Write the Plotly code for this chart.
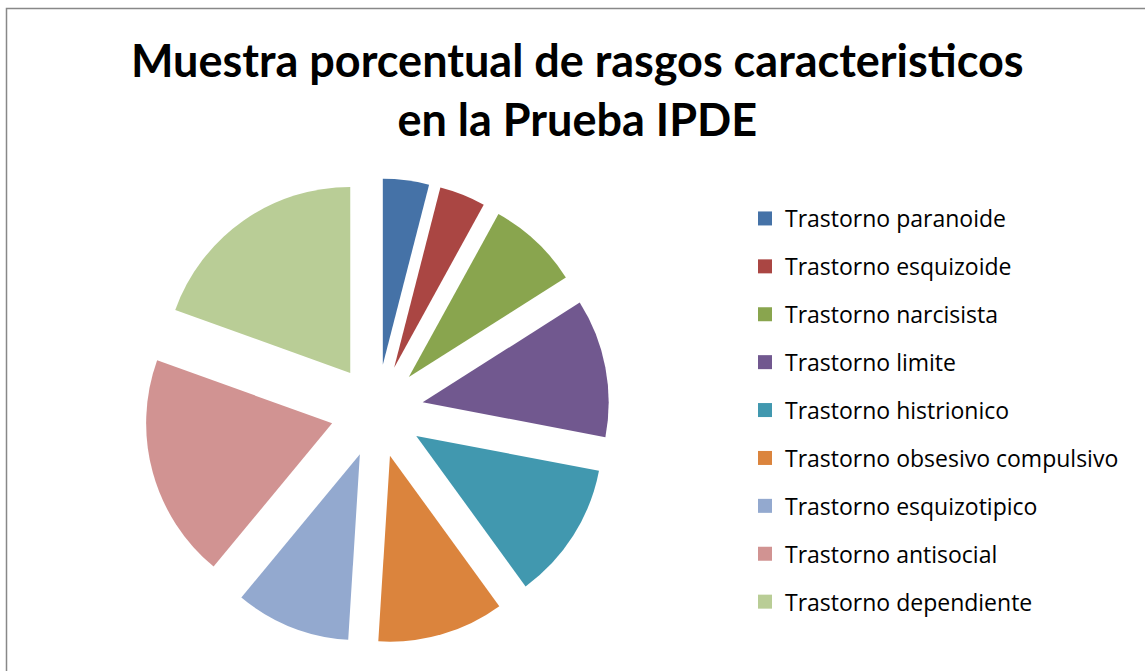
import plotly.graph_objects as go

W, H = 1145, 671

labels = [
    "Trastorno paranoide",
    "Trastorno esquizoide",
    "Trastorno narcisista",
    "Trastorno limite",
    "Trastorno histrionico",
    "Trastorno obsesivo compulsivo",
    "Trastorno esquizotipico",
    "Trastorno antisocial",
    "Trastorno dependiente",
]
values = [4, 4, 8, 12, 12, 11, 10, 19.5, 19.5]
colors = ["#4572A7", "#AA4643", "#89A54E", "#71588F", "#4198AF",
          "#DB843D", "#93A9CF", "#D19392", "#B9CD96"]

title_text = "Muestra porcentual de rasgos caracteristicos<br>en la Prueba IPDE"

TITLE_FONT = "Lato"
LEGEND_FONT = "Open Sans"

fig = go.Figure()

# pie domain (pixels -> paper)
cx, cy, half = 377, 411, 232.5
fig.add_trace(go.Pie(
    labels=labels, values=values,
    marker=dict(colors=colors, line=dict(width=0)),
    sort=False, direction="clockwise", rotation=0,
    pull=[0.25] * len(values),
    textinfo="none", hoverinfo="label+percent",
    showlegend=False,
    domain=dict(x=[(cx - half) / W, (cx + half) / W],
                y=[1 - (cy + half) / H, 1 - (cy - half) / H]),
))

# legend entries
for i, (lab, col) in enumerate(zip(labels, colors)):
    fig.add_trace(go.Scatter(
        x=[None], y=[None], mode="markers", name=lab,
        marker=dict(symbol="square", size=14, color=col),
        legendgroup=str(i), showlegend=True,
    ))

fig.update_layout(
    width=W, height=H,
    margin=dict(l=0, r=0, t=0, b=0),
    paper_bgcolor="white", plot_bgcolor="white",
    xaxis=dict(visible=False), yaxis=dict(visible=False),
    annotations=[dict(text=title_text, xref="paper", yref="paper",
                      x=577.5 / W, xanchor="center", y=1 - 89 / H, yanchor="middle",
                      showarrow=False,
                      font=dict(family=TITLE_FONT, size=45, color="black", weight="bold"))],
    legend=dict(x=745 / W, xanchor="left", y=1 - 197 / H, yanchor="top",
                font=dict(family=LEGEND_FONT, size=23, color="black"),
                tracegroupgap=15, bgcolor="rgba(0,0,0,0)"),
    shapes=[dict(type="rect", xref="paper", yref="paper",
                 x0=6.5 / W, x1=1.02, y0=-0.02, y1=1 - 8.5 / H,
                 line=dict(color="#888888", width=1.5))],
)

fig.write_html("out.html",
               config={"displayModeBar": False},
               post_script="document.body.style.margin='0';document.body.style.padding='0';")
